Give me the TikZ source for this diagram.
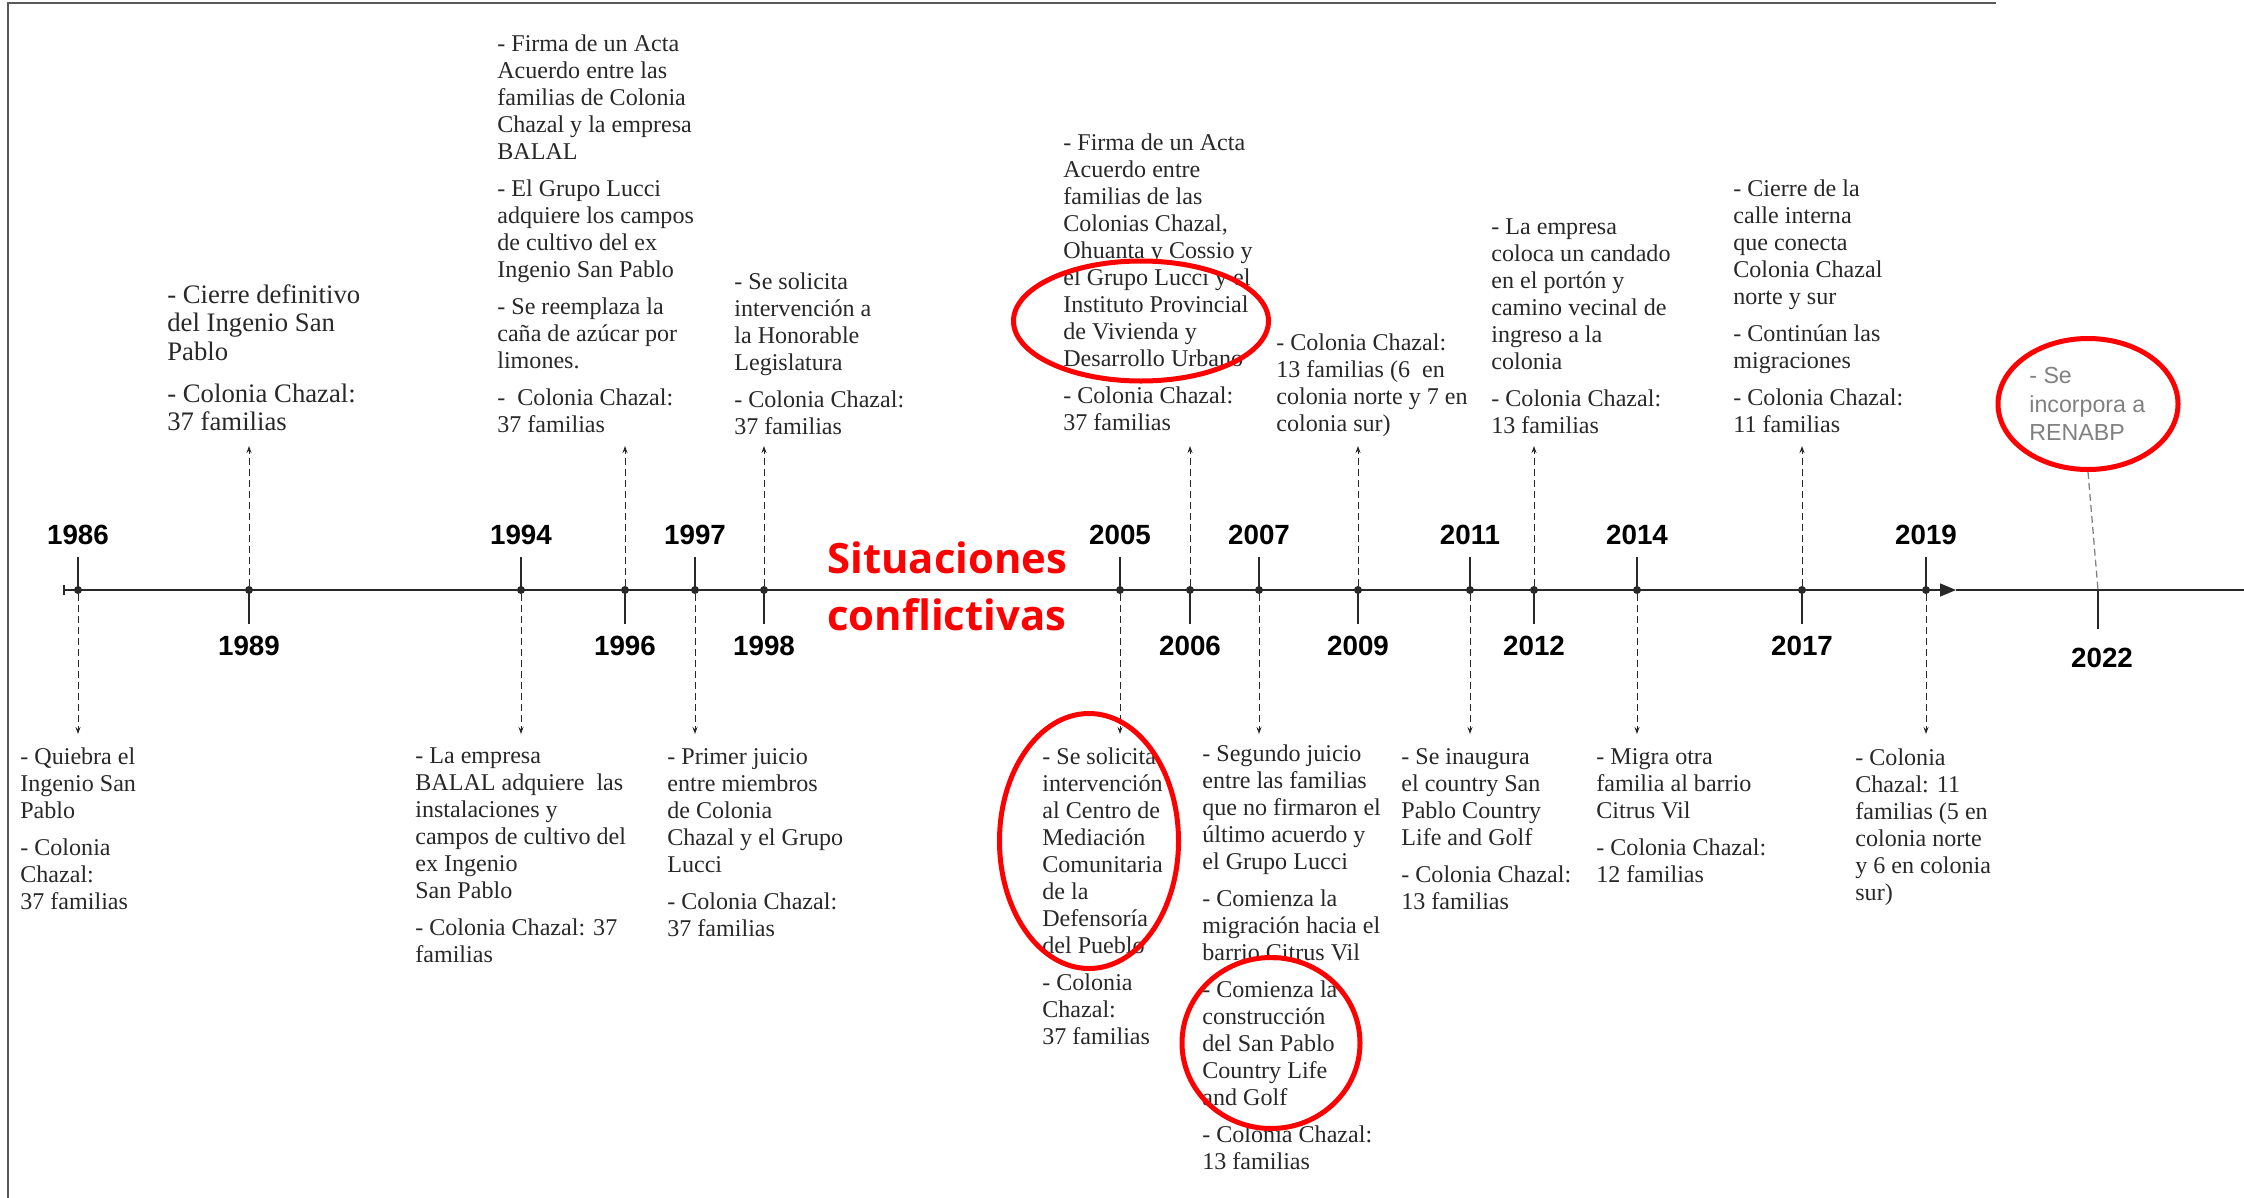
\documentclass[tikz,border=0pt]{standalone}
\usepackage{fontspec}
\setmainfont{Liberation Serif}
\newfontfamily\sansf{Liberation Sans}
\newfontfamily\opensans{Open Sans}
\usetikzlibrary{arrows.meta,shapes.geometric}

\definecolor{ink}{RGB}{40,40,40}
\definecolor{frame}{RGB}{90,90,90}
\definecolor{soft}{RGB}{128,128,128}

\newcommand{\gap}{\\[5.7pt]}
\newcommand{\biggap}{\\[7.4pt]}

\tikzset{
  yrdot/.style={circle,fill=ink,inner sep=0pt,minimum size=1.6mm},
  yr/.style={inner sep=0pt,text=black,font=\sansf\bfseries\fontsize{15.8}{18}\selectfont},
  txt/.style={anchor=north west,inner sep=0pt,align=left,text=ink,font=\fontsize{13.7}{15.4}\selectfont},
  lead/.style={draw=ink,line width=0.2mm,dash pattern=on 1.4mm off 0.8mm,-{Stealth[length=1.4mm,width=1mm]}},
  tick/.style={draw=ink,line width=0.26mm},
  ring/.style={ellipse,draw=red,line width=1mm,inner sep=0pt},
}

\begin{document}
\begin{tikzpicture}[x=0.2mm,y=-0.2mm]
  \useasboundingbox (0,0) rectangle (2244,1198);
  \draw[frame,line width=0.4mm] (1996,3) -- (8,3) -- (8,1198);

  % time line
  \coordinate (start) at (63,590);
  \coordinate (tip) at (1956,590);
  \coordinate (far) at (2244,590);
  \draw[ink,line width=0.3mm,{Bar[width=2mm]}-{Triangle[length=3.2mm,width=2.6mm]}] (start) -- (tip);
  \draw[ink,line width=0.4mm] (tip) -- (far);

  % years written above the line
  \foreach \y/\x in {1986/78,1994/521,1997/695,2005/1120,2007/1259,2011/1470,2014/1637,2019/1926}{
    \node[yrdot] (d\y) at (\x,590) {};
    \node[yr] (l\y) at (\x,535) {\y};
    \draw[tick] (d\y.center) -- (\x,557);
    \coordinate (e\y) at (\x,734);
    \draw[lead] (d\y) -- (e\y);
  }
  % years written below the line
  \foreach \y/\x in {1989/249,1996/625,1998/764,2006/1190,2009/1358,2012/1534,2017/1802}{
    \node[yrdot] (d\y) at (\x,590) {};
    \node[yr] (l\y) at (\x,646) {\y};
    \draw[tick] (d\y.center) -- (\x,624);
    \coordinate (e\y) at (\x,446);
    \draw[lead] (d\y) -- (e\y);
  }
  \coordinate (d2022) at (2098,590);
  \draw[tick] (d2022) -- (2098,629);
  \node[yr] (l2022) at (2102,658) {2022};

  \node[anchor=north west,inner sep=0pt,align=left,text=red,
        font=\opensans\bfseries\fontsize{23.8}{32.6}\selectfont] (sit) at (827,541) {Situaciones\\conflictivas};

  % texts above
  \node[txt,font=\fontsize{15.2}{16.3}\selectfont] (t1989) at (167,284) {- Cierre definitivo\\del Ingenio San\\Pablo\biggap
    - Colonia Chazal:\\37 familias};
  \node[txt] (t1996) at (497,34) {- Firma de un Acta\\Acuerdo entre las\\familias de Colonia\\Chazal y la empresa\\BALAL\gap
    - El Grupo Lucci\\adquiere los campos\\de cultivo del ex\\Ingenio San Pablo\gap
    - Se reemplaza la\\caña de azúcar por\\limones.\gap
    -\ \ Colonia Chazal:\\37 familias};
  \node[txt] (t1998) at (734,272) {- Se solicita\\intervención a\\la Honorable\\Legislatura\gap
    - Colonia Chazal:\\37 familias};
  \node[txt] (t2006) at (1063,133) {- Firma de un Acta\\Acuerdo entre\\familias de las\\Colonias Chazal,\\Ohuanta y Cossio y\\el Grupo Lucci y el\\Instituto Provincial\\de Vivienda y\\Desarrollo Urbano\gap
    - Colonia Chazal:\\37 familias};
  \node[txt] (t2009) at (1276,333) {- Colonia Chazal:\\13 familias (6\ \ en\\colonia norte y 7 en\\colonia sur)};
  \node[txt] (t2012) at (1491,218) {- La empresa\\coloca un candado\\en el portón y\\camino vecinal de\\ingreso a la\\colonia\gap
    - Colonia Chazal:\\13 familias};
  \node[txt] (t2017) at (1733,179) {- Cierre de la\\calle interna\\que conecta\\Colonia Chazal\\norte y sur\gap
    - Continúan las\\migraciones\gap
    - Colonia Chazal:\\11 familias};
  \node[txt,text=soft,font=\sansf\fontsize{13.2}{16.2}\selectfont] (t2022) at (2029,367) {- Se\\incorpora a\\RENABP};

  % texts below
  \node[txt] (t1986) at (20,747) {- Quiebra el\\Ingenio San\\Pablo\gap
    - Colonia\\Chazal:\\37 familias};
  \node[txt] (t1994) at (415,747) {- La empresa\\BALAL adquiere\ \ las\\instalaciones y\\campos de cultivo del\\ex Ingenio\\San Pablo\gap
    - Colonia Chazal: 37\\familias};
  \node[txt] (t1997) at (667,748) {- Primer juicio\\entre miembros\\de Colonia\\Chazal y el Grupo\\Lucci\gap
    - Colonia Chazal:\\37 familias};
  \node[txt] (t2005) at (1042,747) {- Se solicita\\intervención\\al Centro de\\Mediación\\Comunitaria\\de la\\Defensoría\\del Pueblo\gap
    - Colonia\\Chazal:\\37 familias};
  \node[txt] (t2007) at (1202,744) {- Segundo juicio\\entre las familias\\que no firmaron el\\último acuerdo y\\el Grupo Lucci\gap
    - Comienza la\\migración hacia el\\barrio Citrus Vil\gap
    - Comienza la\\construcción\\del San Pablo\\Country Life\\and Golf\gap
    - Colonia Chazal:\\13 familias};
  \node[txt] (t2011) at (1401,748) {- Se inaugura\\el country San\\Pablo Country\\Life and Golf\gap
    - Colonia Chazal:\\13 familias};
  \node[txt] (t2014) at (1596,748) {- Migra otra\\familia al barrio\\Citrus Vil\gap
    - Colonia Chazal:\\12 familias};
  \node[txt] (t2019) at (1855,748) {- Colonia\\Chazal: 11\\familias (5 en\\colonia norte\\y 6 en colonia\\sur)};

  % red marks
  \node[ring,minimum width=51mm,minimum height=24mm] (c2006) at (1141,321) {};
  \node[ring,minimum width=35.8mm,minimum height=51mm] (c2005) at (1089,841) {};
  \node[ring,minimum width=35.6mm,minimum height=34.2mm] (c2007) at (1271,1043) {};
  \node[ring,minimum width=36mm,minimum height=26.2mm] (c2022) at (2088,404) {};
  \draw[soft,line width=0.25mm,dash pattern=on 1.4mm off 0.8mm] (c2022.south) -- (d2022);
\end{tikzpicture}
\end{document}
